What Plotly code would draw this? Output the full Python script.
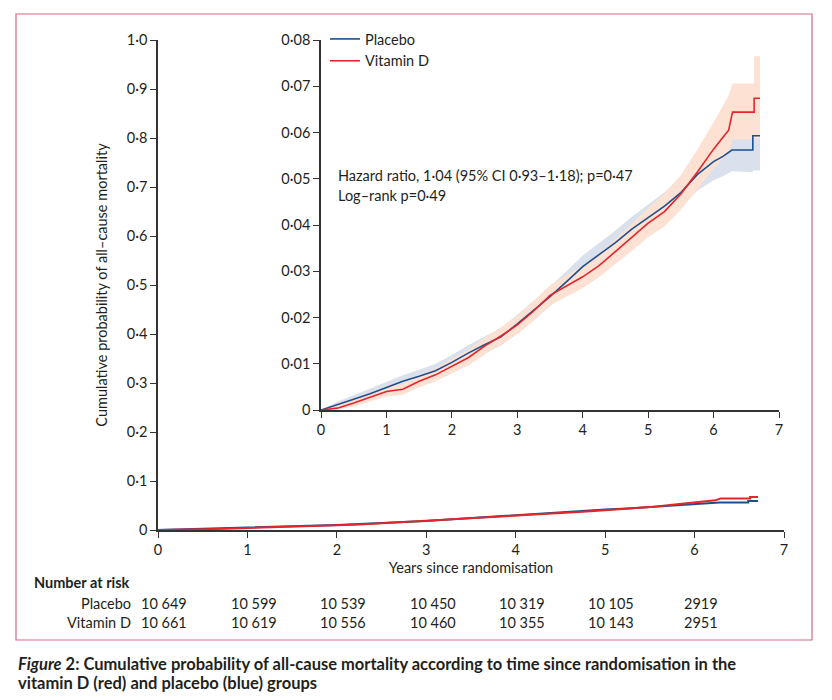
import plotly.graph_objects as go

# ---------------- data ----------------
t_placebo = [0, 0.25, 0.5, 0.75, 1.0, 1.25, 1.5, 1.75, 2.0, 2.25, 2.5, 2.75, 3.0, 3.25,
             3.5, 3.75, 4.0, 4.25, 4.5, 4.75, 5.0, 5.25, 5.5, 5.75, 6.0, 6.15, 6.28,
             6.60, 6.60, 6.71]
placebo = [0, .0011, .0023, .0035, .0048, .0062, .0073, .0085, .0103, .0123, .0141, .0158,
           .0186, .0215, .0245, .0277, .0310, .0336, .0362, .0391, .0416, .0441, .0470,
           .0509, .0537, .0549, .0562, .0562, .0593, .0593]
placebo_lo = [0, .0004, .0014, .0024, .0036, .0049, .0059, .0070, .0087, .0106, .0123, .0139,
              .0166, .0194, .0223, .0254, .0286, .0311, .0336, .0364, .0388, .0411, .0438,
              .0474, .0497, .0506, .0516, .0514, .0518, .0518]
placebo_hi = [0, .0018, .0032, .0046, .0060, .0075, .0087, .0100, .0119, .0140, .0159, .0177,
              .0206, .0236, .0267, .0300, .0334, .0361, .0388, .0418, .0444, .0471, .0502,
              .0544, .0577, .0592, .0608, .0610, .0670, .0670]

t_vitd = [0, 0.25, 0.5, 0.75, 1.0, 1.25, 1.5, 1.75, 2.0, 2.25, 2.5, 2.75, 3.0, 3.25,
          3.5, 3.75, 4.0, 4.25, 4.5, 4.75, 5.0, 5.25, 5.5, 5.75, 6.0, 6.15, 6.23, 6.29,
          6.62, 6.62, 6.71]
vitd = [0, .0004, .0015, .0028, .0040, .0045, .0062, .0076, .0095, .0113, .0138, .0160,
        .0184, .0214, .0248, .0268, .0288, .0312, .0342, .0372, .0404, .0429, .0467,
        .0514, .0564, .0591, .0605, .0644, .0644, .0674, .0674]
vitd_lo = [0, .0001, .0007, .0018, .0029, .0033, .0049, .0062, .0079, .0096, .0120, .0141,
           .0164, .0193, .0226, .0245, .0264, .0287, .0315, .0344, .0374, .0397, .0433,
           .0477, .0522, .0545, .0557, .0585, .0585, .0587, .0587]
vitd_hi = [0, .0010, .0023, .0038, .0051, .0057, .0075, .0090, .0111, .0130, .0156, .0179,
           .0204, .0235, .0270, .0291, .0312, .0337, .0369, .0402, .0437, .0468, .0508,
           .0562, .0622, .0660, .0680, .0706, .0706, .0765, .0765]

risk_years = [0, 1, 2, 3, 4, 5, 6]
risk_placebo = ["10 649", "10 599", "10 539", "10 450", "10 319", "10 105", "2919"]
risk_vitd = ["10 661", "10 619", "10 556", "10 460", "10 355", "10 143", "2951"]

main_yticks = [0, 0.1, 0.2, 0.3, 0.4, 0.5, 0.6, 0.7, 0.8, 0.9, 1.0]
main_ytext = ["0", "0·1", "0·2", "0·3", "0·4", "0·5", "0·6", "0·7", "0·8", "0·9", "1·0"]
inset_yticks = [0, 0.01, 0.02, 0.03, 0.04, 0.05, 0.06, 0.07, 0.08]
inset_ytext = ["0", "0·01", "0·02", "0·03", "0·04", "0·05", "0·06", "0·07", "0·08"]
xticks = [0, 1, 2, 3, 4, 5, 6, 7]

BLUE = "#1d4f8f"
RED = "#e5252b"
BLUE_BAND = "#dbe1ec"
RED_BAND = "#fde1d3"
AX = "#333333"
TXT = "#231f20"
FONT = "Lato"
FS = 14.5

# page has an 8 px body margin: figure is sized to fit, coordinates given in window pixels
OFF = 8
W, H = 832 - 2 * OFF, 700 - 2 * OFF
def px(x):
    return (x - OFF) / W
def py(y):
    return 1 - (y - OFF) / H

fig = go.Figure()

# main plot lines
fig.add_trace(go.Scatter(x=t_placebo, y=placebo, mode="lines", line=dict(color=BLUE, width=2),
                         xaxis="x", yaxis="y", showlegend=False, hoverinfo="skip"))
fig.add_trace(go.Scatter(x=t_vitd, y=vitd, mode="lines", line=dict(color=RED, width=2),
                         xaxis="x", yaxis="y", showlegend=False, hoverinfo="skip"))

# inset bands
fig.add_trace(go.Scatter(x=t_placebo + t_placebo[::-1], y=placebo_hi + placebo_lo[::-1],
                         fill="toself", fillcolor=BLUE_BAND, line=dict(width=0),
                         mode="lines", xaxis="x2", yaxis="y2", showlegend=False, hoverinfo="skip"))
fig.add_trace(go.Scatter(x=t_vitd + t_vitd[::-1], y=vitd_hi + vitd_lo[::-1],
                         fill="toself", fillcolor=RED_BAND, line=dict(width=0),
                         mode="lines", xaxis="x2", yaxis="y2", showlegend=False, hoverinfo="skip"))
# inset lines
fig.add_trace(go.Scatter(x=t_placebo, y=placebo, mode="lines", name="Placebo",
                         line=dict(color=BLUE, width=1.6), xaxis="x2", yaxis="y2"))
fig.add_trace(go.Scatter(x=t_vitd, y=vitd, mode="lines", name="Vitamin D",
                         line=dict(color=RED, width=1.6), xaxis="x2", yaxis="y2"))

axis_common = dict(showline=True, linecolor=AX, linewidth=1.5, ticks="outside", ticklen=6,
                   tickcolor=AX, tickwidth=1.2, showgrid=False, zeroline=False, automargin=False,
                   tickfont=dict(family=FONT, size=FS, color=TXT))

fig.update_layout(
    width=W, height=H, margin=dict(l=0, r=0, t=0, b=0, autoexpand=False),
    paper_bgcolor="white", plot_bgcolor="rgba(0,0,0,0)",
    font=dict(family=FONT, size=FS, color=TXT),
    xaxis=dict(domain=[px(158), px(784)], range=[0, 7], tickvals=xticks, anchor="y",
               title=dict(text="Years since randomisation", standoff=6,
                          font=dict(family=FONT, size=FS, color=TXT)), **axis_common),
    yaxis=dict(domain=[py(530), py(40)], range=[0, 1], tickvals=main_yticks, ticktext=main_ytext,
               anchor="x", title=dict(text="Cumulative probability of all–cause mortality", standoff=16,
                                      font=dict(family=FONT, size=FS, color=TXT)), **axis_common),
    xaxis2=dict(domain=[px(321), px(779)], range=[0, 7], tickvals=xticks, anchor="y2", **axis_common),
    yaxis2=dict(domain=[py(410), py(40)], range=[0, 0.08], tickvals=inset_yticks, ticktext=inset_ytext,
                anchor="x2", **axis_common),
    legend=dict(x=px(325), y=py(23), xanchor="left", yanchor="top", bgcolor="rgba(0,0,0,0)",
                font=dict(family=FONT, size=FS, color=TXT), itemwidth=30, tracegroupgap=0),
)

ann = []
ann.append(dict(text="Hazard ratio, 1·04 (95% CI 0·93–1·18); p=0·47", x=px(336), y=py(175),
                xref="paper", yref="paper", xanchor="left", yanchor="middle", showarrow=False,
                font=dict(family=FONT, size=FS, color=TXT)))
ann.append(dict(text="Log–rank p=0·49", x=px(336), y=py(195),
                xref="paper", yref="paper", xanchor="left", yanchor="middle", showarrow=False,
                font=dict(family=FONT, size=FS, color=TXT)))
ann.append(dict(text="<b>Number at risk</b>", x=px(32), y=py(582), xref="paper", yref="paper",
                xanchor="left", yanchor="middle", showarrow=False,
                font=dict(family=FONT, size=FS, color=TXT)))
ann.append(dict(text="Placebo", x=px(133), y=py(603), xref="paper", yref="paper",
                xanchor="right", yanchor="middle", showarrow=False,
                font=dict(family=FONT, size=FS, color=TXT)))
ann.append(dict(text="Vitamin D", x=px(133), y=py(622), xref="paper", yref="paper",
                xanchor="right", yanchor="middle", showarrow=False,
                font=dict(family=FONT, size=FS, color=TXT)))
for yr, a, b in zip(risk_years, risk_placebo, risk_vitd):
    ann.append(dict(text=a, x=yr + 0.07, y=py(603), xref="x", yref="paper", xanchor="center",
                    yanchor="middle", showarrow=False, font=dict(family=FONT, size=FS, color=TXT)))
    ann.append(dict(text=b, x=yr + 0.07, y=py(622), xref="x", yref="paper", xanchor="center",
                    yanchor="middle", showarrow=False, font=dict(family=FONT, size=FS, color=TXT)))
ann.append(dict(text="<b><i>Figure</i> 2:</b><b> Cumulative probability of all-cause mortality according to time since randomisation in the</b>",
                x=px(16), y=py(664), xref="paper", yref="paper", xanchor="left", yanchor="middle",
                showarrow=False, font=dict(family=FONT, size=16.5, color=TXT)))
ann.append(dict(text="<b>vitamin D (red) and placebo (blue) groups</b>",
                x=px(16), y=py(683), xref="paper", yref="paper", xanchor="left", yanchor="middle",
                showarrow=False, font=dict(family=FONT, size=16.5, color=TXT)))
fig.update_layout(annotations=ann)

fig.add_shape(type="rect", xref="paper", yref="paper", x0=px(16), x1=px(812), y0=py(640), y1=py(14),
              line=dict(color="#cf6b84", width=1.2), fillcolor="rgba(0,0,0,0)", layer="below")

fig.write_html("out.html")
